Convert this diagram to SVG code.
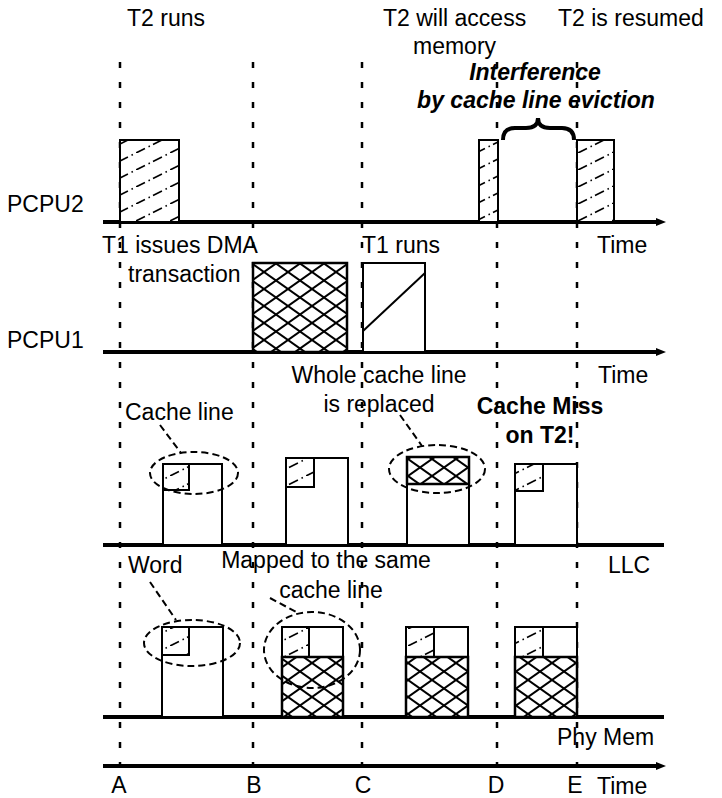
<svg xmlns="http://www.w3.org/2000/svg" width="722" height="798" viewBox="0 0 722 798">
<style>
text{font-family:"Liberation Sans",Arial,sans-serif;font-size:23px;fill:#000}
.b{font-weight:bold}
.bi{font-weight:bold;font-style:italic}
.m{text-anchor:middle}
.axis{stroke:#000;stroke-width:4;fill:none}
.vl{stroke:#000;stroke-width:2.5;stroke-dasharray:6 14;fill:none}
.box{stroke:#000;stroke-width:2;fill:#fff}
.t2{stroke:#000;stroke-width:2;fill:url(#pT2)}
.dma{stroke:#000;stroke-width:2.5;fill:url(#pX)}
.ell{stroke:#000;stroke-width:2;stroke-dasharray:7 4;fill:none}
.lead{stroke:#000;stroke-width:2;stroke-dasharray:7 4;fill:none}
</style>
<defs>
<pattern id="pT2" patternUnits="userSpaceOnUse" width="34" height="17">
<rect width="34" height="17" fill="#fff"/>
<line x1="0" y1="17" x2="34" y2="0" stroke="#000" stroke-width="1.6" stroke-dasharray="10 4 1.5 3.5"/>
</pattern>
<pattern id="pX" patternUnits="userSpaceOnUse" width="24" height="17">
<rect width="24" height="17" fill="#fff"/>
<line x1="0" y1="0" x2="24" y2="17" stroke="#000" stroke-width="2"/>
<line x1="0" y1="17" x2="24" y2="0" stroke="#000" stroke-width="2"/>
</pattern>
<marker id="arr" markerWidth="10" markerHeight="10" refX="2" refY="5" orient="auto" markerUnits="userSpaceOnUse">
<path d="M0,1 L10,5 L0,9 Z" fill="#000"/>
</marker>
</defs>

<g id="connectors">
<g id="time-guides">
<line class="vl" x1="120" y1="62" x2="120" y2="772"/>
<line class="vl" x1="253" y1="62" x2="253" y2="772"/>
<line class="vl" x1="362" y1="62" x2="362" y2="772"/>
<line class="vl" x1="497" y1="62" x2="497" y2="772"/>
<line class="vl" x1="577" y1="62" x2="577" y2="772"/>
</g>
<line class="axis" x1="103" y1="222" x2="658" y2="222" marker-end="url(#arr)"/>
<line class="axis" x1="103" y1="352" x2="658" y2="352" marker-end="url(#arr)"/>
<line class="axis" x1="103" y1="545" x2="664" y2="545"/>
<line class="axis" x1="103" y1="717" x2="664" y2="717"/>
<line class="axis" x1="103" y1="766" x2="658" y2="766" marker-end="url(#arr)"/>
<path class="lead" d="M160,425 L181,453"/>
<path class="lead" d="M150,582 L176,620"/>
<path class="lead" d="M270,598 L298,613"/>
<path class="lead" d="M400,415 L422,446"/>
<path d="M503,140 Q503,128 515,128 L526,128 Q538,128 538,118 Q538,128 550,128 L562,128 Q574,128 574,140" fill="none" stroke="#000" stroke-width="4"/>
</g>

<g id="pcpu2">
<text x="7" y="212">PCPU2</text>
<rect class="t2" x="120" y="140" width="59" height="82"/>
<rect class="t2" x="479" y="140" width="19" height="82"/>
<rect class="t2" x="577" y="140" width="37" height="82"/>
<text x="597" y="253">Time</text>
</g>

<g id="pcpu1">
<text x="7" y="348">PCPU1</text>
<rect class="dma" x="253" y="263" width="94" height="89"/>
<rect class="box" x="363" y="263" width="62" height="89"/>
<line x1="363" y1="331" x2="425" y2="273" stroke="#000" stroke-width="2"/>
<text x="598" y="383">Time</text>
</g>

<g id="llc">
<rect class="box" x="163" y="464" width="59" height="81"/>
<rect class="t2" x="163" y="464" width="26" height="26"/>
<ellipse class="ell" cx="194" cy="473" rx="44" ry="21"/>
<rect class="box" x="286" y="458" width="62" height="87"/>
<rect class="t2" x="286" y="458" width="28" height="29"/>
<rect class="box" x="407" y="457" width="62" height="88"/>
<rect class="dma" x="407" y="457" width="62" height="27"/>
<ellipse class="ell" cx="437" cy="469" rx="48" ry="24"/>
<rect class="box" x="515" y="464" width="62" height="81"/>
<rect class="t2" x="515" y="464" width="28" height="27"/>
<text x="608" y="573">LLC</text>
</g>

<g id="phymem">
<rect class="box" x="162" y="627" width="61" height="90"/>
<rect class="t2" x="162" y="627" width="27" height="28"/>
<ellipse class="ell" cx="192" cy="643" rx="48" ry="23"/>
<rect class="box" x="282" y="627" width="61" height="90"/>
<rect class="t2" x="282" y="627" width="27" height="30"/>
<rect class="dma" x="282" y="657" width="61" height="60"/>
<ellipse class="ell" cx="312" cy="650" rx="48" ry="38"/>
<rect class="box" x="406" y="627" width="62" height="90"/>
<rect class="t2" x="406" y="627" width="28" height="30"/>
<rect class="dma" x="406" y="657" width="62" height="60"/>
<rect class="box" x="515" y="627" width="62" height="90"/>
<rect class="t2" x="515" y="627" width="28" height="30"/>
<rect class="dma" x="515" y="657" width="62" height="60"/>
<text x="557" y="745">Phy Mem</text>
</g>

<g id="labels">
<text x="127" y="26">T2 runs</text>
<text x="383" y="26">T2 will access</text>
<text x="413" y="54">memory</text>
<text x="558" y="26">T2 is resumed</text>
<text class="bi m" x="535" y="80">Interference</text>
<text class="bi m" x="536" y="108">by cache line eviction</text>
<text x="102" y="253">T1 issues DMA</text>
<text x="128" y="282">transaction</text>
<text x="362" y="253">T1 runs</text>
<text class="m" x="379" y="383">Whole cache line</text>
<text class="m" x="379" y="412">is replaced</text>
<text class="b m" x="540" y="414">Cache Miss</text>
<text class="b m" x="540" y="443">on T2!</text>
<text x="125" y="420">Cache line</text>
<text x="128" y="573">Word</text>
<text class="m" x="326" y="568">Mapped to the same</text>
<text class="m" x="331" y="598">cache line</text>
</g>

<g id="time-points">
<text class="m" x="119" y="793">A</text>
<text class="m" x="254" y="793">B</text>
<text class="m" x="363" y="793">C</text>
<text class="m" x="496" y="793">D</text>
<text class="m" x="575" y="793">E</text>
<text x="597" y="794">Time</text>
</g>
</svg>
